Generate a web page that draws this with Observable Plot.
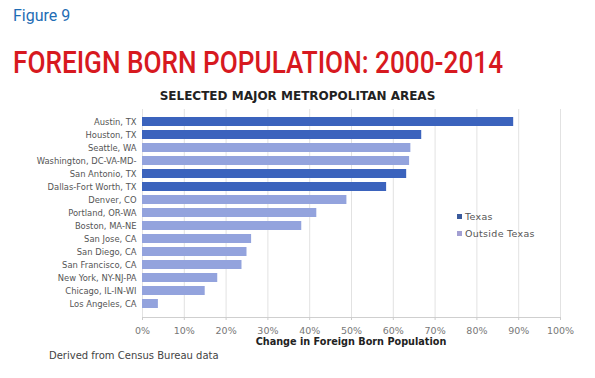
<!DOCTYPE html>
<html>
<head>
<meta charset="utf-8">
<script src="https://cdn.jsdelivr.net/npm/d3@7"></script>
<script src="https://cdn.jsdelivr.net/npm/@observablehq/plot@0.6"></script>
<style>
  html, body { margin: 0; padding: 0; background: #fff; }
  body { width: 595px; height: 378px; position: relative; overflow: hidden; font-family: "DejaVu Sans", sans-serif; }
  .abs { position: absolute; white-space: nowrap; }
  #fig { left: 13px; top: 6px; font-family: Roboto, sans-serif; font-weight: 400; font-size: 16px; color: #1f6db5; }
  #title { left: 13px; top: 47px; font-family: Roboto, sans-serif; font-weight: 500; font-size: 31px; color: #d7191f; transform-origin: 0 0; line-height: 1; }
  #subtitle { left: 0; width: 595px; text-align: center; top: 89px; font-family: "DejaVu Sans", sans-serif; font-weight: bold; font-size: 12px; color: #222; }
  #chart { left: 0; top: 100px; }
  .leg { font-size: 9.5px; color: #555; letter-spacing: 0.3px; }
  .sw { display: inline-block; width: 5px; height: 5px; margin-right: 3px; vertical-align: 1px; }
  #caption { left: 49px; top: 350px; font-size: 10px; color: #444; }
</style>
</head>
<body>
<div id="fig" class="abs">Figure 9</div>
<div id="title" class="abs">FOREIGN BORN POPULATION: 2000-2014</div>
<div id="subtitle" class="abs">SELECTED MAJOR METROPOLITAN AREAS</div>
<div id="chart" class="abs"></div>
<div id="legend"></div>
<div id="caption" class="abs">Derived from Census Bureau data</div>
<script>
const metros = [
  "Austin, TX", "Houston, TX", "Seattle, WA", "Washington, DC-VA-MD-",
  "San Antonio, TX", "Dallas-Fort Worth, TX", "Denver, CO", "Portland, OR-WA",
  "Boston, MA-NE", "San Jose, CA", "San Diego, CA", "San Francisco, CA",
  "New York, NY-NJ-PA", "Chicago, IL-IN-WI", "Los Angeles, CA"
];
const changes = [88.8, 66.8, 64.2, 63.9, 63.2, 58.4, 48.9, 41.7, 38.1, 26.1, 25.0, 23.8, 18.0, 15.0, 3.8];
const regions = [
  "Texas", "Texas", "Outside Texas", "Outside Texas",
  "Texas", "Texas", "Outside Texas", "Outside Texas",
  "Outside Texas", "Outside Texas", "Outside Texas", "Outside Texas",
  "Outside Texas", "Outside Texas", "Outside Texas"
];
const seriesNames = ["Texas", "Outside Texas"];
const seriesColors = ["#3b63bd", "#93a3dd"];
const xTicks = [0, 10, 20, 30, 40, 50, 60, 70, 80, 90, 100];
const xLabel = "Change in Foreign Born Population";

const data = metros.map((m, i) => ({ metro: m, value: changes[i], region: regions[i] }));

const chart = Plot.plot({
  width: 595,
  height: 255,
  marginLeft: 142,
  marginRight: 35,
  marginTop: 9,
  marginBottom: 38,
  style: { fontFamily: "DejaVu Sans, sans-serif", background: "transparent" },
  x: { domain: [0, 100] },
  y: { domain: metros, paddingInner: 0.28, paddingOuter: 0.14 },
  color: { domain: seriesNames, range: seriesColors },
  marks: [
    Plot.gridX(xTicks, { stroke: "#e2e2e2", strokeOpacity: 1 }),
    Plot.frame({ anchor: "bottom", stroke: "#cfcfcf" }),
    Plot.barX(data, { x: "value", y: "metro", fill: "region" }),
    Plot.axisX({
      ticks: xTicks, tickFormat: d => d + "%", tickSize: 3, tickPadding: 7,
      stroke: "#ccc", fill: "#777", fontSize: 9.5,
      label: null
    }),
    Plot.axisY({ tickSize: 0, tickPadding: 6, fontSize: 8.4, fill: "#555", label: null })
  ]
});
document.getElementById("chart").appendChild(chart);

// x axis title (below the SVG tick labels)
const lab = document.createElement("div");
lab.className = "abs";
lab.textContent = xLabel;
lab.style.cssText = "left:142px;width:418px;text-align:center;top:336px;font-size:9.7px;font-weight:bold;color:#222;";
document.body.appendChild(lab);

// legend
const legend = document.getElementById("legend");
seriesNames.forEach((name, i) => {
  const d = document.createElement("div");
  d.className = "abs leg";
  d.style.left = "457px";
  d.style.top = (211 + i * 17) + "px";
  d.innerHTML = `<span class="sw" style="background:${i === 0 ? "#3a5a9c" : "#a29fd2"}"></span>${name}`;
  legend.appendChild(d);
});

// fit main title width to reference
const t = document.getElementById("title");
const w = t.getBoundingClientRect().width;
t.style.transform = `scaleX(${490 / w})`;
</script>
</body>
</html>
